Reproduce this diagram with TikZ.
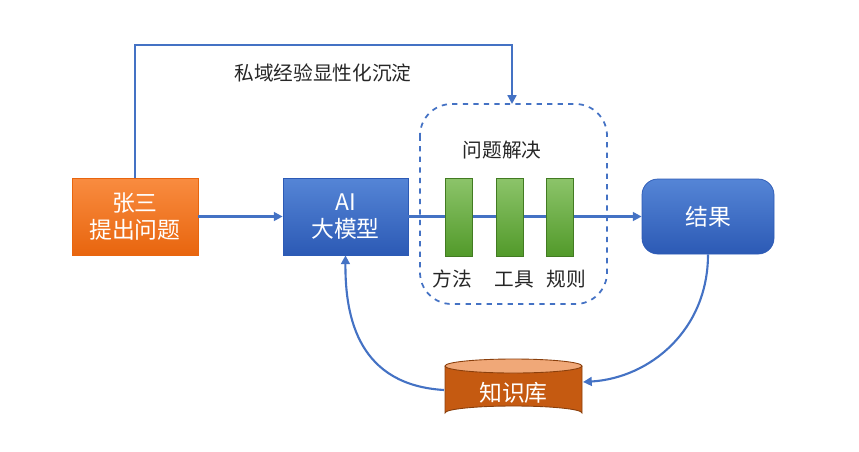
\documentclass[tikz,border=0pt]{standalone}
\usepackage{fontspec}
\setmainfont{Noto Sans CJK SC}
\usetikzlibrary{arrows.meta}
\definecolor{ln}{HTML}{4472C4}
\definecolor{bt}{HTML}{5585D6}
\definecolor{bb}{HTML}{2C5AB5}
\definecolor{gt}{HTML}{8CC46A}
\definecolor{gb}{HTML}{529A2A}
\definecolor{ot}{HTML}{F98C40}
\definecolor{ob}{HTML}{E8650E}
\definecolor{cy}{HTML}{C55A11}
\definecolor{cyt}{HTML}{F0A878}
\begin{document}
\begin{tikzpicture}[x=0.02cm,y=-0.02cm,
 lbl/.style={font=\fontsize{11.2}{13}\selectfont,text=black!85},
 big/.style={font=\fontsize{13}{15.5}\selectfont,text=white,align=center},
 arr/.style={draw=ln,line width=1.2pt,-{Triangle[length=5pt,width=5pt]}},
 bar/.style={top color=gt,bottom color=gb,draw=gb!80!black,line width=0.3pt}]
\useasboundingbox (0,0) rectangle (859,451);
\draw[ln,dashed,line width=1pt,rounded corners=18pt] (420,104) rectangle (607,304);
\node[lbl] (pj) at (502,150) {问题解决};
\node[big,minimum width=126*0.02cm,minimum height=77*0.02cm,top color=ot,bottom color=ob,draw=ob,inner sep=0] (zs) at (135,216.5) {张三\\提出问题};
\node[big,minimum width=125*0.02cm,minimum height=77*0.02cm,top color=bt,bottom color=bb,draw=bb,inner sep=0] (ai) at (345.5,216.5) {AI\\大模型};
\node[big,minimum width=132*0.02cm,minimum height=75*0.02cm,rounded corners=9pt,top color=bt,bottom color=bb,draw=bb,inner sep=0] (res) at (708,216.5) {结果};
\draw[arr] (ai.east) -- (res.west);
\draw[arr] (zs.east) -- (ai.west);
\node[bar,minimum width=27*0.02cm,minimum height=78*0.02cm,inner sep=0] (b1) at (458.5,217) {};
\node[bar,minimum width=27*0.02cm,minimum height=78*0.02cm,inner sep=0] (b2) at (510,217) {};
\node[bar,minimum width=27*0.02cm,minimum height=78*0.02cm,inner sep=0] (b3) at (560,217) {};
\node[lbl] (t1) at (452,279) {方法};
\node[lbl] (t2) at (514,279) {工具};
\node[lbl] (t3) at (566,279) {规则};
\coordinate (tp) at (512,104);
\draw[arr] (zs.north) -- (135,45) -- (512,45) -- (tp);
\node[lbl] (pv) at (323,73) {私域经验显性化沉淀};
\fill[cy] (445,366) -- (445,413) arc[start angle=180,end angle=360,x radius=68.5,y radius=7] -- (582,366) -- cycle;
\draw[cy!70!black,line width=0.5pt] (445,366) -- (445,413) arc[start angle=180,end angle=360,x radius=68.5,y radius=7] -- (582,366);
\draw[cy!70!black,line width=0.5pt,fill=cyt] (513.5,366) ellipse[x radius=68.5,y radius=7];
\node[big] (kb) at (513.5,393) {知识库};
\coordinate (kr) at (583,382);
\coordinate (kl) at (444,390);
\draw[arr] (res.south) .. controls (708,330) and (650,378) .. (kr);
\draw[arr] (kl) .. controls (360,385) and (345,320) .. (ai.south);
\end{tikzpicture}
\end{document}
